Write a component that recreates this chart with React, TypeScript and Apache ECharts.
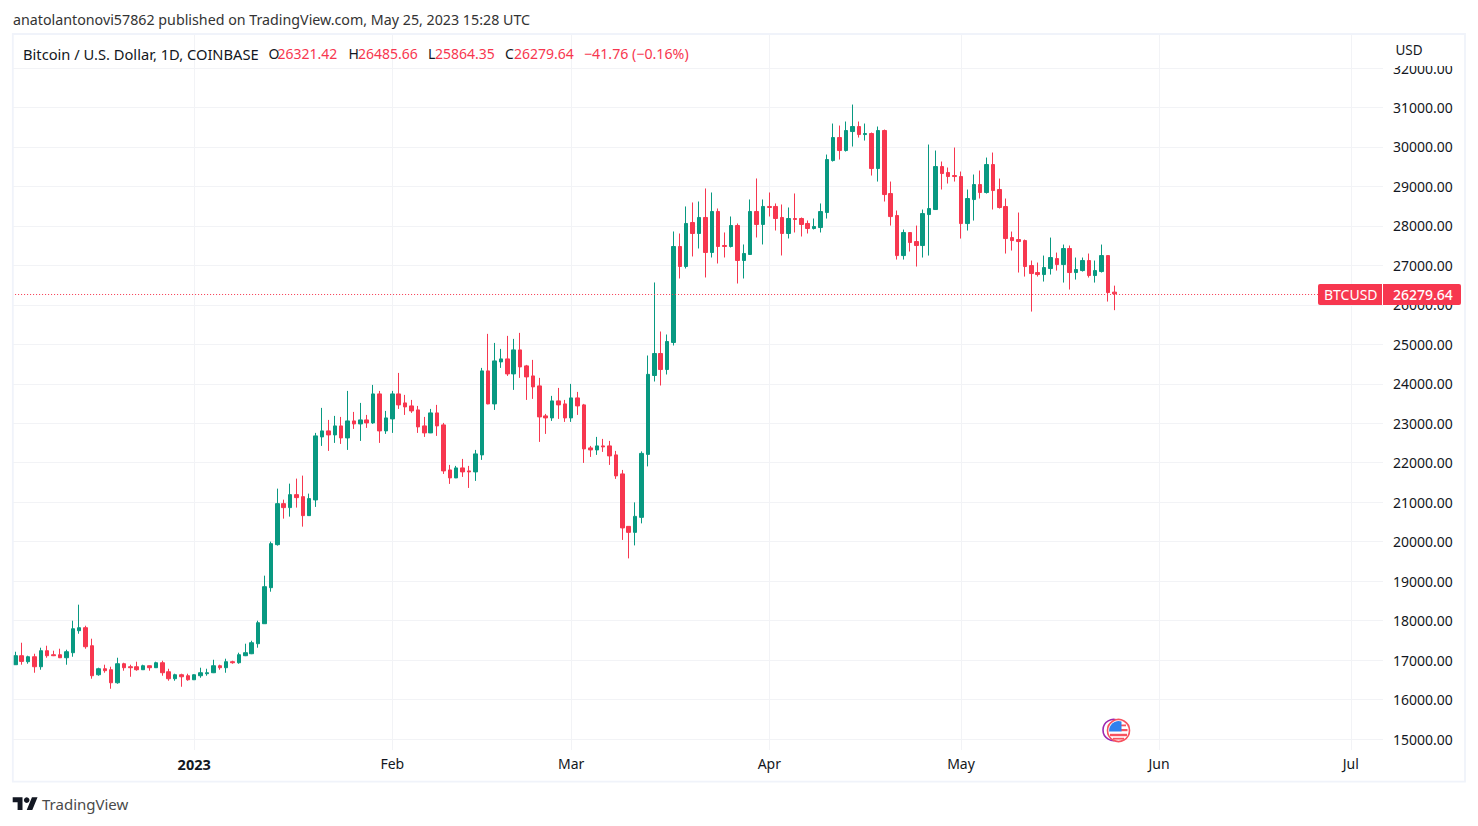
import React, { useEffect, useRef } from "react";
import * as echarts from "echarts";

const opens = [16882,17110,16958,17084,16831,17237,17135,17135,17059,17186,17744,17820,17363,16628,16780,16755,16425,16907,16831,16831,16755,16856,16806,16932,16704,16527,16628,16603,16501,16603,16654,16679,16856,16806,16958,16932,17110,17160,17414,17921,18834,19924,20963,20862,21191,21140,20659,21057,22654,22806,22704,22932,22628,23059,22983,23084,23008,23743,22806,23110,23743,23515,23439,23338,22932,22755,23262,22958,21817,21615,21868,21792,21767,22198,24326,23490,24554,24630,24250,24858,24453,24199,23946,23186,23135,23566,23490,23135,23642,23465,22375,22324,22426,22426,22198,21716,20387,20235,20615,22211,24209,24767,24361,25046,27478,26971,28086,27807,28213,27326,28365,27503,27478,28010,27123,27275,28365,28036,28492,28492,28213,27807,28187,28187,28061,27934,27958,28338,29655,30238,29909,30390,30517,30314,30340,29453,30416,28819,28262,27248,27831,27603,27502,28287,28414,29503,29351,29275,29250,28059,28667,29047,28845,29554,28921,28490,27704,27654,27628,26995,26818,26767,26919,27172,27020,27426,26818,26868,27122,26742,26843,27248,26321.42];
const closes = [17110,16966,17084,16831,17237,17110,17110,17059,17211,17794,17820,17338,16603,16780,16730,16425,16907,16806,16806,16755,16856,16806,16932,16679,16527,16628,16577,16501,16628,16679,16679,16856,16806,16958,16932,17135,17186,17439,17946,18859,19949,20963,20862,21191,21115,20659,21090,22679,22806,22704,22932,22628,23059,22983,23084,23008,23743,22806,23135,23743,23465,23414,23312,22907,22755,23262,22932,21792,21615,21868,21767,21767,22223,24326,23490,24579,24630,24250,24858,24427,24174,23921,23160,23135,23566,23465,23135,23642,23439,22350,22324,22426,22400,22172,21666,20348,20235,20640,22236,24238,24767,24361,25071,27478,26971,28061,27807,28213,27326,28365,27478,27478,28010,27123,27301,28365,28036,28492,28466,28187,27807,28187,28162,28036,27934,27985,28363,29681,30238,29909,30416,30517,30314,30340,29453,30416,28794,28236,27248,27831,27578,27502,28312,28439,29503,29326,29250,29250,28059,28693,29047,28845,29554,28895,28465,27679,27628,27603,26970,26792,26767,26944,27198,27020,27426,26818,26894,27122,26742,26868,27248,26311,26279.64];
const highs = [17211,17439,17110,17160,17313,17363,17237,17287,17262,17997,18403,17870,17541,16806,16882,16831,17059,16932,16882,16958,16882,16860,16958,16983,16780,16654,16654,16654,16640,16806,16780,17008,16882,17034,16983,17186,17414,17490,17997,19138,20000,21343,21064,21470,21597,21673,21217,22755,23389,23084,23186,23160,23819,23287,23515,23211,23971,23819,23312,23819,24275,23718,23591,23439,23160,23363,23465,23008,21944,21919,22096,21919,22324,24402,25264,25035,24883,25213,25137,25289,24478,24605,24149,23236,23693,23895,23591,23997,23794,23490,22426,22654,22603,22552,22299,21817,20390,20995,22287,24716,26566,25324,25248,27858,27807,28492,28593,28618,28948,28846,28441,27833,28238,28061,27529,28669,29201,28669,28846,28568,28542,28466,28821,28213,28137,28187,28568,29807,30593,30542,30644,31074,30644,30593,30365,30517,30441,29123,28389,27907,27835,28008,28414,30061,29909,29630,29478,29985,29377,28921,29301,29402,29731,29858,29199,28693,27856,28338,27654,27122,27071,27248,27704,27324,27527,27502,27198,27198,27299,27122,27527,27250,26485.66];
const lows = [16880,16882,16907,16679,16755,17059,17100,17050,16882,17084,17667,17287,16527,16603,16679,16273,16400,16730,16577,16730,16750,16730,16800,16603,16476,16476,16324,16476,16495,16552,16603,16670,16755,16679,16907,16907,17100,17150,17313,17915,18732,19899,20583,20634,20862,20380,20650,20880,22426,22299,22502,22476,22324,22856,22552,22882,22983,22502,22730,22755,23363,23211,23262,22755,22654,22750,22679,21716,21463,21610,21640,21361,21539,22071,23480,23338,24402,24199,23845,24149,23591,23617,22527,22730,23059,23110,23034,23034,23211,21995,22147,22198,22274,21944,21590,20044,19576,19905,20463,21907,24057,23956,24235,24970,26667,26921,27225,27427,26693,27199,27047,27199,27453,26540,26667,27270,27706,27529,28238,27883,27250,27681,27833,27731,27807,27909,27833,28186,29630,29681,29883,30010,30238,30162,29275,29123,28617,28008,27147,27147,27350,26970,27198,27248,28410,28921,29073,29123,27679,27882,28135,28693,28819,28414,28439,27299,27375,26818,26716,25829,26716,26590,26767,26868,26564,26387,26640,26843,26691,26564,26818,26083,25864.35];

const firstDate = Date.UTC(2022, 11, 4);
const slotCount = 215;
const dates = Array.from({ length: slotCount }, (_, i) => new Date(firstDate + i * 86400000).toISOString().slice(0, 10));
const tickDates = ["2023-01-01", "2023-02-01", "2023-03-01", "2023-04-01", "2023-05-01", "2023-06-01", "2023-07-01"];
const tickLabels = ["2023", "Feb", "Mar", "Apr", "May", "Jun", "Jul"];

const lastClose = 26279.64;
const RED = "#f7374f";
const GREEN = "#089981";
const GRIDC = "#f2f3f6";
const INK = "#131722";
const FONT = "'Noto Sans', sans-serif";

const candles = opens.map((o, i) => [o, closes[i], lows[i], highs[i]]);
const isTick = (_: number, v: string) => tickDates.includes(v);

const txt = (x: number, y: number, text: string, fill: string, fontSize = 14, extra: any = {}) => ({
  type: "text",
  x,
  y,
  z: 30,
  silent: true,
  style: { text, fill, font: `${extra.weight || ""} ${fontSize}px ${FONT}`, verticalAlign: "middle" },
});

export default function App() {
  const ref = useRef<HTMLDivElement>(null);
  useEffect(() => {
    echarts.graphic.registerShape(
      "tvlogo",
      echarts.graphic.extendPath("M14 22H7V11H0V4h14v18zM28 22h-8l7.5-18h8L28 22z", {}) as any
    );
    echarts.graphic.registerShape(
      "canton",
      echarts.graphic.extendPath("M1121.5 721.5V731.5H1109.1A9.5 9.5 0 0 1 1121.5 721.5Z", {}) as any
    );
    const chart = echarts.init(ref.current!, undefined, { renderer: "svg" });
    const left = 12.1;
    const width = 1373.85;
    chart.setOption({
      animation: false,
      backgroundColor: "#ffffff",
      grid: [
        { left, width, top: 34, height: 716 },
        { left, width, top: 68, height: 671 },
      ],
      xAxis: [
        {
          type: "category",
          gridIndex: 0,
          data: dates,
          position: "bottom",
          axisLine: { show: false },
          axisTick: { show: false },
          splitLine: { show: true, interval: isTick, alignWithLabel: true, lineStyle: { color: GRIDC, width: 1 } },
          axisLabel: {
            interval: isTick,
            margin: 6,
            color: INK,
            fontFamily: "'Noto Sans', sans-serif",
            fontSize: 14,
            formatter: (v: string) => {
              const label = tickLabels[tickDates.indexOf(v)];
              return label === "2023" ? `{b|${label}}` : label;
            },
            rich: { b: { fontWeight: "bold", fontSize: 14.5, color: INK, fontFamily: "'Noto Sans', sans-serif" } },
          },
        },
        { type: "category", gridIndex: 1, data: dates, show: false },
      ],
      yAxis: [
        { type: "value", gridIndex: 0, min: 0, max: 1, show: false, splitLine: { show: false } },
        {
          type: "value",
          gridIndex: 1,
          position: "right",
          min: 15000,
          max: 32000,
          interval: 1000,
          axisLine: { show: false },
          axisTick: { show: false },
          splitLine: { show: true, lineStyle: { color: GRIDC, width: 1 } },
          axisLabel: {
            margin: 7,
            color: INK,
            fontFamily: "'Noto Sans', sans-serif",
            fontSize: 14,
            padding: [0, 0, 2, 0],
            formatter: (v: number) => v.toFixed(2),
          },
        },
      ],
      series: [
        {
          type: "candlestick",
          xAxisIndex: 1,
          yAxisIndex: 1,
          barWidth: 4,
          data: candles,
          itemStyle: { color: GREEN, color0: RED, borderColor: GREEN, borderColor0: RED, borderWidth: 1 },
          markLine: {
            silent: true,
            symbol: "none",
            label: { show: false },
            lineStyle: { color: RED, width: 1, type: [1, 2] },
            data: [{ yAxis: lastClose }],
          },
        },
      ],
      graphic: [
        { type: "rect", z: 20, silent: true, shape: { x: 1383, y: 34, width: 3, height: 716 }, style: { fill: "#fff" } },
        { type: "rect", z: 20, silent: true, shape: { x: 1386, y: 36, width: 76, height: 30 }, style: { fill: "#fff" } },
        { type: "rect", z: 25, silent: true, shape: { x: 12.8, y: 34, width: 1452.2, height: 747.7 }, style: { fill: "none", stroke: "#f0f3fa", lineWidth: 1.8 } },
        txt(13, 19, "anatolantonovi57862 published on TradingView.com, May 25, 2023 15:28 UTC", "#333333", 14.25),
        txt(23, 53.5, "Bitcoin / U.S. Dollar, 1D, COINBASE", INK, 14.7),
        txt(268.5, 53.5, "O", INK, 14),
        txt(277.5, 53.5, "26321.42", RED, 14),
        txt(348.5, 53.5, "H", INK, 14),
        txt(358, 53.5, "26485.66", RED, 14),
        txt(428, 53.5, "L", INK, 14),
        txt(435, 53.5, "25864.35", RED, 14),
        txt(505, 53.5, "C", INK, 14),
        txt(514, 53.5, "26279.64", RED, 14),
        txt(584, 53.5, "\u221241.76 (\u22120.16%)", RED, 14.2),
        txt(1395.5, 50, "USD", INK, 13.5),
        { type: "rect", z: 28, silent: true, shape: { x: 1318, y: 284, width: 64, height: 21, r: [2, 0, 0, 2] }, style: { fill: RED } },
        { type: "rect", z: 28, silent: true, shape: { x: 1383, y: 284, width: 78, height: 21, r: [0, 2, 2, 0] }, style: { fill: RED } },
        txt(1324, 294.5, "BTCUSD", "#ffffff", 14),
        txt(1393, 294.5, "26279.64", "#ffffff", 14, { weight: "500" }),
        { type: "circle", z: 26, silent: true, shape: { cx: 1113.5, cy: 730, r: 10.5 }, style: { fill: "#fff", stroke: "#9c27b0", lineWidth: 1.6 } },
        { type: "circle", z: 27, silent: true, shape: { cx: 1118.5, cy: 730.5, r: 11 }, style: { fill: "#fff", stroke: "#f7525f", lineWidth: 1.6 } },
        { type: "rect", z: 28, silent: true, shape: { x: 1121, y: 724.5, width: 5, height: 1.8 }, style: { fill: "#f7525f" } },
        { type: "rect", z: 28, silent: true, shape: { x: 1121, y: 729, width: 6.5, height: 2.2 }, style: { fill: "#f7525f" } },
        { type: "rect", z: 28, silent: true, shape: { x: 1110, y: 733.8, width: 17, height: 2.4 }, style: { fill: "#f7525f" } },
        { type: "rect", z: 28, silent: true, shape: { x: 1113, y: 737.8, width: 11, height: 1.8 }, style: { fill: "#f7525f" } },
        { type: "canton", z: 29, silent: true, style: { fill: "#2f80ed" } },
        { type: "tvlogo", x: 12.7, y: 794.5, scaleX: 0.7, scaleY: 0.7, z: 30, silent: true, style: { fill: INK } },
        { type: "circle", z: 30, silent: true, shape: { cx: 26.7, cy: 800.1, r: 2.8 }, style: { fill: INK } },
        txt(42, 804, "TradingView", "#4a4a4a", 15),
      ],
    });
    return () => chart.dispose();
  }, []);
  return <div ref={ref} style={{ position: "absolute", left: 0, top: 0, width: 1478, height: 826 }} />;
}
